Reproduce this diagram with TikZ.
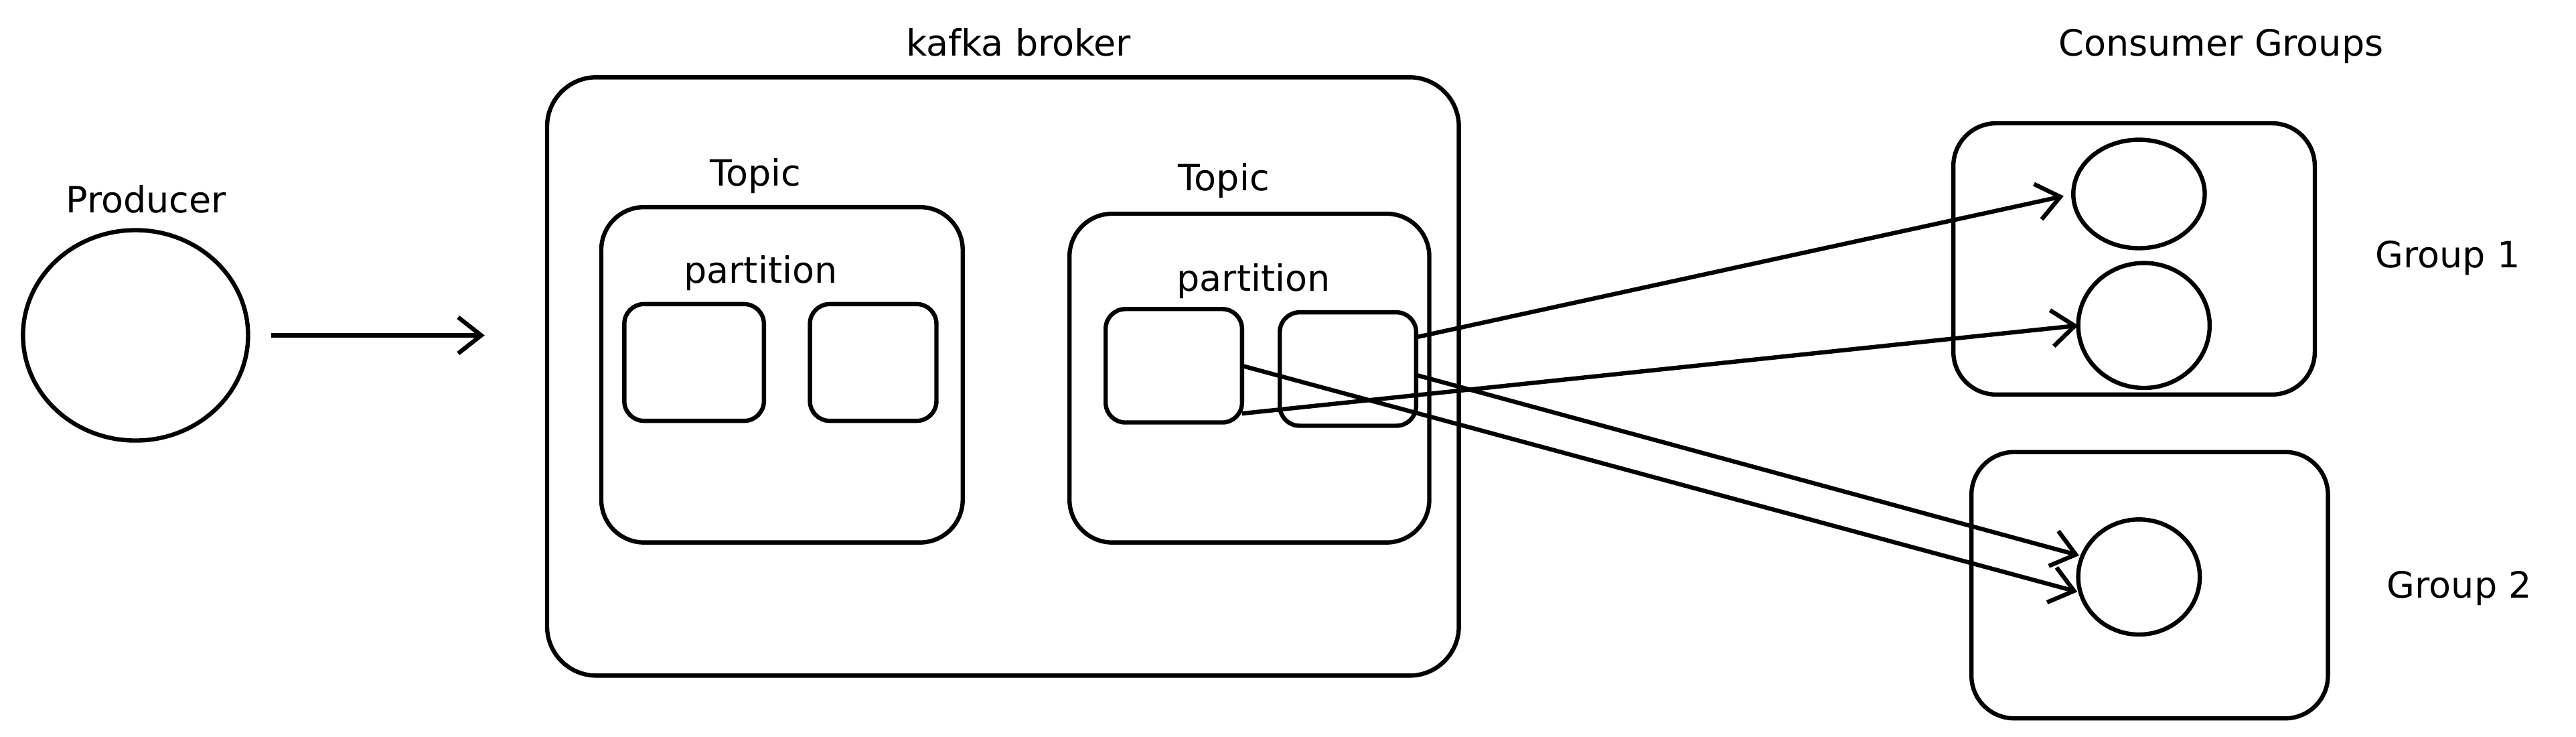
\documentclass[tikz,border=0pt]{standalone}
\usepackage{fontspec}
\setmainfont{DejaVu Sans}
\usepackage{tikz}
\usetikzlibrary{arrows.meta}
\usetikzlibrary{shapes.geometric}

\begin{document}
\begin{tikzpicture}[x=1pt,y=-1pt,
			every node/.style={inner sep=0pt,outer sep=0pt},
			box/.style={draw,line width=2.6pt,rounded corners=#1},
			box/.default=12pt,
			consumer/.style={draw,ellipse,line width=2.6pt},
			tag/.style={font=\fontsize{22}{26}\selectfont},
			flow/.style={-{Straight Barb[length=14pt,width=22pt,line width=2.6pt]},line width=2.6pt}]
			\useasboundingbox (0,0) rectangle (1568,448);
			
			% producer
			\node[consumer,minimum width=137pt,minimum height=128pt] (prod) at (82.5,204) {};
			\node[tag] (prodlbl) at (89,121) {Producer};
			
			% broker with two topics
			\node[box=30pt,minimum width=555pt,minimum height=364pt] (broker) at (610.5,229) {};
			\node[tag] (brokerlbl) at (620,26) {kafka broker};
			\node[box=26pt,minimum width=220pt,minimum height=204pt] (topicA) at (476,228) {};
			\node[tag] (topicAlbl) at (460,107) {Topic};
			\node[tag] (partAlbl) at (463,166) {partition};
			\node[box,minimum width=85pt,minimum height=71pt] (pA) at (422.5,220.5) {};
			\node[box,minimum width=77pt,minimum height=71pt] (pB) at (531.5,220.5) {};
			\node[box=26pt,minimum width=219pt,minimum height=200pt] (topicB) at (760.5,230) {};
			\node[tag] (topicBlbl) at (745,110) {Topic};
			\node[tag] (partBlbl) at (763,171) {partition};
			\node[box,minimum width=83pt,minimum height=69pt] (pC) at (714.5,222.5) {};
			\node[box,minimum width=83pt,minimum height=69pt] (pD) at (820.5,224.5) {};
			
			% consumer groups
			\node[tag] (cglbl) at (1352,28) {Consumer Groups};
			\node[box=26pt,minimum width=220pt,minimum height=165pt] (grpA) at (1299,157.5) {};
			\node[box=26pt,minimum width=217pt,minimum height=162pt] (grpB) at (1308.5,356) {};
			\node[tag] (grpAlbl) at (1490,157) {Group 1};
			\node[tag] (grpBlbl) at (1497,358) {Group 2};
			\node[consumer,minimum width=80pt,minimum height=66pt] (cA) at (1302,118) {};
			\node[consumer,minimum width=80pt,minimum height=76pt] (cB) at (1305,198) {};
			\node[consumer,minimum width=74pt,minimum height=70pt] (cC) at (1302,351) {};
			
			\draw[flow,shorten <=14pt,shorten >=38pt] (prod.east) -- (prod.east -| broker.west);
			\draw[flow,shorten >=6pt] (pD.25) -- (cA.west);
			\draw[flow] (pC.-35) -- (cB.west);
			\draw[flow,shorten >=2pt] (pC.east) -- (cC.195);
			\draw[flow,shorten >=2pt] (pD.-5) -- (cC.160);
		\end{tikzpicture}
\end{document}
